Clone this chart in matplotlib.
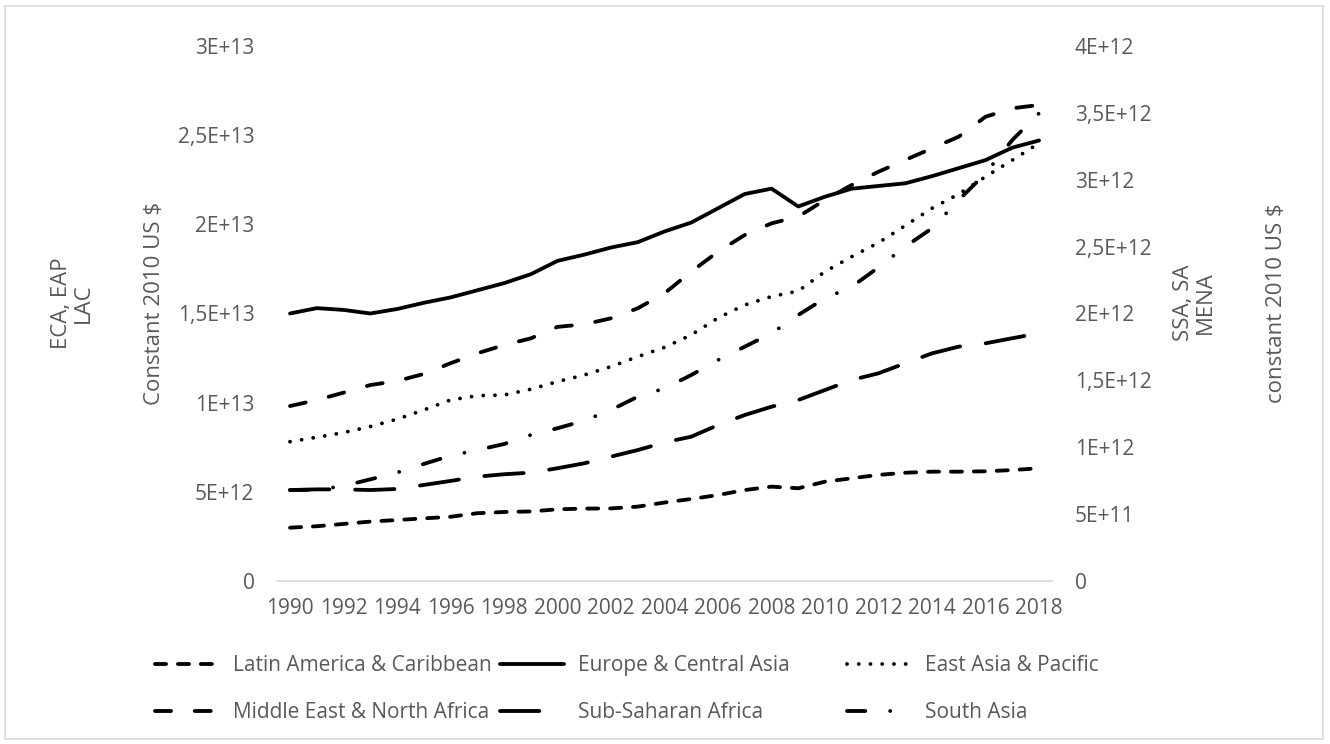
import numpy as np
import matplotlib.pyplot as plt
from matplotlib.patches import Rectangle

plt.rcParams['font.family'] = ['Open Sans', 'DejaVu Sans']

# GDP, constant 2010 US$
years = list(range(1990, 2019))

# left axis series
lac = [2.99e12, 3.07e12, 3.20e12, 3.33e12, 3.42e12, 3.51e12, 3.60e12, 3.80e12, 3.87e12, 3.90e12,
       4.02e12, 4.06e12, 4.07e12, 4.17e12, 4.40e12, 4.60e12, 4.82e12, 5.10e12, 5.29e12, 5.20e12,
       5.57e12, 5.76e12, 5.95e12, 6.07e12, 6.13e12, 6.13e12, 6.15e12, 6.22e12, 6.32e12]
eca = [1.50e13, 1.53e13, 1.52e13, 1.50e13, 1.525e13, 1.56e13, 1.59e13, 1.63e13, 1.67e13, 1.72e13,
       1.795e13, 1.83e13, 1.87e13, 1.90e13, 1.96e13, 2.01e13, 2.09e13, 2.17e13, 2.20e13, 2.10e13,
       2.155e13, 2.20e13, 2.215e13, 2.23e13, 2.27e13, 2.315e13, 2.36e13, 2.43e13, 2.47e13]
eap = [7.81e12, 8.06e12, 8.32e12, 8.66e12, 9.07e12, 9.59e12, 1.015e13, 1.039e13, 1.043e13, 1.075e13,
       1.118e13, 1.155e13, 1.202e13, 1.258e13, 1.31e13, 1.38e13, 1.475e13, 1.548e13, 1.595e13, 1.626e13,
       1.735e13, 1.819e13, 1.897e13, 1.993e13, 2.09e13, 2.17e13, 2.267e13, 2.36e13, 2.455e13]

# right axis series
mena = [1.308e12, 1.353e12, 1.408e12, 1.465e12, 1.495e12, 1.548e12, 1.628e12, 1.702e12, 1.764e12, 1.814e12,
        1.900e12, 1.919e12, 1.964e12, 2.039e12, 2.151e12, 2.313e12, 2.462e12, 2.587e12, 2.674e12, 2.724e12,
        2.849e12, 2.961e12, 3.060e12, 3.148e12, 3.235e12, 3.322e12, 3.471e12, 3.534e12, 3.559e12]
ssa = [6.80e11, 6.85e11, 6.85e11, 6.80e11, 6.88e11, 7.18e11, 7.48e11, 7.80e11, 7.98e11, 8.10e11,
       8.43e11, 8.80e11, 9.30e11, 9.79e11, 1.036e12, 1.079e12, 1.166e12, 1.241e12, 1.303e12, 1.353e12,
       1.428e12, 1.503e12, 1.553e12, 1.628e12, 1.702e12, 1.752e12, 1.777e12, 1.815e12, 1.852e12]
sa = [6.80e11, 6.82e11, 7.10e11, 7.60e11, 8.10e11, 8.75e11, 9.37e11, 9.79e11, 1.024e12, 1.092e12,
      1.142e12, 1.199e12, 1.279e12, 1.378e12, 1.440e12, 1.540e12, 1.652e12, 1.752e12, 1.852e12, 1.989e12,
      2.114e12, 2.200e12, 2.345e12, 2.500e12, 2.637e12, 2.849e12, 3.048e12, 3.297e12, 3.497e12]

left_ticks = [0, 5e12, 1e13, 1.5e13, 2e13, 2.5e13, 3e13]
left_labels = ['0', '5E+12', '1E+13', '1,5E+13', '2E+13', '2,5E+13', '3E+13']
right_ticks = [0, 5e11, 1e12, 1.5e12, 2e12, 2.5e12, 3e12, 3.5e12, 4e12]
right_labels = ['0', '5E+11', '1E+12', '1,5E+12', '2E+12', '2,5E+12', '3E+12', '3,5E+12', '4E+12']

grey = '#595959'
lw = 2.75
fs = 15

fig = plt.figure(figsize=(13.3, 7.44), dpi=100)
ax = fig.add_axes([0.208, 0.2191, 0.5833, 0.7191])
ax2 = ax.twinx()

kw = dict(color='black', lw=lw, dash_capstyle='round', solid_capstyle='round')
l_lac, = ax.plot(years, lac, dashes=(2.9, 3.1), **kw)
l_eca, = ax.plot(years, eca, **kw)
l_eap, = ax.plot(years, eap, dashes=(0.01, 3.06), **kw)
l_mena, = ax2.plot(years, mena, dashes=(4.2, 6.2), **kw)
l_ssa, = ax2.plot(years, ssa, dashes=(10.3, 6.75), **kw)
l_sa, = ax2.plot(years, sa, dashes=(4.8, 6.5, 0.01, 6.5), **kw)

ax.set_xlim(1989.5, 2018.5)
ax.set_ylim(0, 3e13)
ax2.set_ylim(0, 4e12)
ax.set_xticks(years[::2])
ax.set_yticks(left_ticks)
ax.set_yticklabels(left_labels)
ax2.set_yticks(right_ticks)
ax2.set_yticklabels(right_labels)

for a in (ax, ax2):
    for s in ('top', 'left', 'right'):
        a.spines[s].set_visible(False)
    a.spines['bottom'].set_color('#D9D9D9')
    a.spines['bottom'].set_linewidth(1.2)
ax2.spines['bottom'].set_visible(False)
ax.tick_params(axis='x', length=0, pad=12, labelsize=fs, labelcolor=grey)
ax.tick_params(axis='y', length=0, pad=16, labelsize=fs, labelcolor=grey)
ax2.tick_params(axis='y', length=0, pad=16, labelsize=fs, labelcolor=grey)

# axis titles
fig.text(72 / 1330, 1 - 303 / 744, 'ECA, EAP\nLAC', rotation=90, ha='center', va='center',
         multialignment='center', fontsize=16, color=grey, linespacing=1.05)
fig.text(154 / 1330, 1 - 303 / 744, 'Constant 2010 US $', rotation=90, ha='center', va='center',
         fontsize=16, color=grey)
fig.text(1194 / 1330, 1 - 303 / 744, 'SSA, SA\nMENA', rotation=90, ha='center', va='center',
         multialignment='center', fontsize=16, color=grey, linespacing=1.05)
fig.text(1277 / 1330, 1 - 303 / 744, 'constant 2010 US $', rotation=90, ha='center', va='center',
         fontsize=16, color=grey)

# legend, three columns
cols = [([l_lac, l_mena], ['Latin America & Caribbean', 'Middle East & North Africa'], 155),
        ([l_eca, l_ssa], ['Europe & Central Asia', 'Sub-Saharan Africa'], 500),
        ([l_eap, l_sa], ['East Asia & Pacific', 'South Asia'], 847)]
for handles, labels, x0 in cols:
    leg = fig.legend(handles, labels, loc='upper left', bbox_to_anchor=(x0 / 1330, 1 - 655 / 744),
                     frameon=False, fontsize=fs, handlelength=3.05, handletextpad=0.7,
                     labelspacing=1.25, borderpad=0, borderaxespad=0)
    for t in leg.get_texts():
        t.set_color(grey)

fig.patches.append(Rectangle((5 / 1330, 5 / 744), 1318 / 1330, 733 / 744, transform=fig.transFigure,
                             fill=False, edgecolor='#D9D9D9', lw=1.2))

fig.savefig('out.png', dpi=100)
